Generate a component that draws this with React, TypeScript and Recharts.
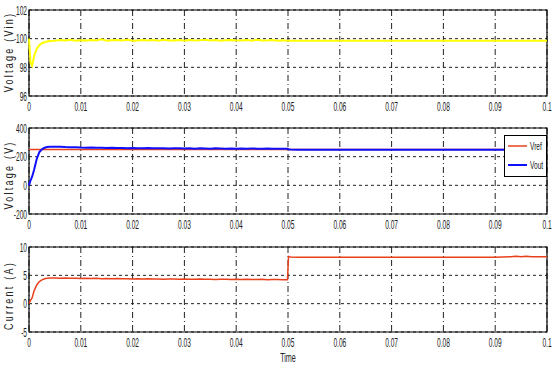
import { CartesianGrid, Legend, Line, LineChart, ReferenceArea, XAxis, YAxis } from 'recharts'

// time axis (s) shared by all three traces
const TIME = [
  0, 0.0003, 0.0006, 0.001, 0.0015, 0.002, 0.0025, 0.003, 0.0035, 0.004,
  0.005, 0.006, 0.007, 0.008, 0.009, 0.01, 0.011, 0.012, 0.013, 0.014,
  0.015, 0.016, 0.017, 0.018, 0.019, 0.02, 0.021, 0.022, 0.023, 0.024,
  0.025, 0.026, 0.027, 0.028, 0.029, 0.03, 0.031, 0.032, 0.033, 0.034,
  0.035, 0.036, 0.037, 0.038, 0.039, 0.04, 0.041, 0.042, 0.043, 0.044,
  0.045, 0.046, 0.047, 0.048, 0.049,
  0.0499, 0.0501, 0.0505, 0.052, 0.06, 0.07, 0.08, 0.09, 0.093, 0.094, 0.095, 0.096, 0.097, 0.1,
]

const VIN = [
  100, 98.3, 98.1, 98.8, 99.3, 99.55, 99.68, 99.75, 99.8, 99.84,
  99.86, 99.9, 99.87, 99.92, 99.86, 99.89, 99.87, 99.91, 99.88, 99.95,
  99.86, 99.89, 99.9, 99.87, 99.92, 99.86, 99.88, 99.9, 99.87, 99.91,
  99.86, 99.93, 99.88, 99.87, 99.9, 99.86, 99.91, 99.88, 99.89, 99.92,
  99.87, 99.9, 99.86, 99.89, 99.91, 99.87, 99.88, 99.9, 99.86, 99.92,
  99.88, 99.87, 99.9, 99.86, 99.89,
  99.86, 99.85, 99.85, 99.85, 99.85, 99.85, 99.85, 99.85, 99.85, 99.85, 99.85, 99.85, 99.85, 99.85,
]

const VREF_LEVEL = 250

const VOUT = [
  0, 35, 60, 110, 185, 232, 252, 262, 267, 269,
  270, 269, 267, 266, 266, 264, 263, 264, 262, 263,
  261, 262, 260, 261, 259, 260, 258, 259, 260, 258,
  259, 258, 257, 259, 258, 257, 258, 256, 258, 257,
  256, 258, 257, 256, 257, 256, 257, 255, 257, 256,
  255, 257, 256, 255, 256,
  256, 252, 250, 249, 248, 248, 248, 248, 248, 248, 248, 248, 248, 248,
]

const CURRENT = [
  0, 0.6, 1.0, 2.3, 3.3, 3.9, 4.2, 4.4, 4.5, 4.55,
  4.55, 4.5, 4.55, 4.5, 4.5, 4.45, 4.5, 4.45, 4.5, 4.4,
  4.45, 4.4, 4.45, 4.4, 4.4, 4.35, 4.4, 4.35, 4.4, 4.35,
  4.35, 4.3, 4.35, 4.35, 4.3, 4.35, 4.3, 4.3, 4.35, 4.3,
  4.3, 4.25, 4.3, 4.3, 4.25, 4.3, 4.25, 4.3, 4.25, 4.25,
  4.3, 4.2, 4.25, 4.25, 4.2,
  4.2, 8.35, 8.25, 8.2, 8.2, 8.2, 8.2, 8.2, 8.3, 8.35, 8.3, 8.35, 8.3, 8.3,
]

const X_TICKS = [0, 0.01, 0.02, 0.03, 0.04, 0.05, 0.06, 0.07, 0.08, 0.09, 0.1]
const VIN_TICKS = [96, 98, 100, 102]
const VOUT_TICKS = [-200, 0, 200, 400]
const CUR_TICKS = [-5, 0, 5, 10]

const rows = TIME.map((t, i) => ({
  t,
  vin: VIN[i],
  vref: VREF_LEVEL,
  vout: VOUT[i],
  cur: CURRENT[i],
}))

const FONT = '"Liberation Sans", Arial, sans-serif'
const INK = '#222'

function XTick({ x, y, payload }: any) {
  return (
    <text
      transform={`translate(${x},${y + 15}) scale(0.55,1)`}
      textAnchor="middle"
      fontSize={12}
      fontFamily={FONT}
      fill={INK}
    >
      {String(payload.value)}
    </text>
  )
}

function YTick({ x, y, payload }: any) {
  return (
    <text
      transform={`translate(${x - 2},${y + 4.5}) scale(0.55,1)`}
      textAnchor="end"
      fontSize={12}
      fontFamily={FONT}
      fill={INK}
    >
      {String(payload.value)}
    </text>
  )
}

const yLabel = (text: string, shift: number) => (props: any) => {
  const vb = props.viewBox
  const cy = vb.y + vb.height / 2 + shift
  return (
    <text
      transform={`translate(13,${cy}) rotate(-90) scale(0.75,1)`}
      textAnchor="middle"
      fontSize={12}
      fontFamily={FONT}
      fill={INK}
      letterSpacing={3}
    >
      {text}
    </text>
  )
}

function LegendBox() {
  return (
    <svg width={43} height={42} style={{ display: 'block' }}>
      <rect x={0.5} y={0.5} width={42} height={41} fill="#fff" stroke="#000" />
      <line x1={4} x2={23} y1={11} y2={11} stroke="#e8401c" strokeWidth={1.5} />
      <text transform="translate(26,14.5) scale(0.6,1)" fontSize={11} fontFamily={FONT} fill={INK}>
        Vref
      </text>
      <line x1={4} x2={23} y1={30} y2={30} stroke="#1010ff" strokeWidth={2} />
      <text transform="translate(26,33.5) scale(0.6,1)" fontSize={11} fontFamily={FONT} fill={INK}>
        Vout
      </text>
    </svg>
  )
}

function Panel({
  top,
  height,
  marginTop,
  axisHeight,
  yDomain,
  yTicks,
  label,
  labelShift,
  timeLabel,
  children,
}: any) {
  return (
    <div style={{ position: 'absolute', left: 0, top }}>
      <LineChart
        width={552}
        height={height}
        data={rows}
        margin={{ top: marginTop, right: 5, bottom: 0, left: 0 }}
      >
        <CartesianGrid vertical={false} stroke={INK} strokeDasharray="3 3" />
        <CartesianGrid horizontal={false} stroke={INK} strokeDasharray="6 3 1 3" />
        <XAxis
          dataKey="t"
          type="number"
          domain={[0, 0.1]}
          ticks={X_TICKS}
          height={axisHeight}
          axisLine={false}
          tickLine={false}
          tickSize={0}
          tickMargin={0}
          tick={<XTick />}
          interval={0}
          label={
            timeLabel
              ? (props: any) => {
                  const vb = props.viewBox
                  return (
                    <text
                      transform={`translate(${vb.x + vb.width / 2},${vb.y + 30}) scale(0.6,1)`}
                      textAnchor="middle"
                      fontSize={12}
                      fontFamily={FONT}
                      fill={INK}
                    >
                      Time
                    </text>
                  )
                }
              : undefined
          }
        />
        <YAxis
          type="number"
          domain={yDomain}
          ticks={yTicks}
          width={29}
          axisLine={false}
          tickLine={false}
          tickSize={0}
          tickMargin={0}
          tick={<YTick />}
          interval={0}
          allowDataOverflow
          label={{ content: yLabel(label, labelShift) } as any}
        />
        {children}
        <ReferenceArea
          x1={0}
          x2={0.1}
          y1={yDomain[0]}
          y2={yDomain[1]}
          fill="none"
          stroke="#000"
          strokeWidth={1.2}
          fillOpacity={0}
        />
      </LineChart>
    </div>
  )
}

export default function App() {
  return (
    <div style={{ position: 'absolute', left: 0, top: 0, width: 552, height: 365, background: '#fff' }}>
      <Panel
        top={0}
        height={115}
        marginTop={10}
        axisHeight={19}
        yDomain={[96, 102]}
        yTicks={VIN_TICKS}
        label="Voltage (Vin)"
        labelShift={-1}
      >
        <Line
          dataKey="vin"
          type="linear"
          stroke="#ffff00"
          strokeWidth={2}
          dot={false}
          isAnimationActive={false}
        />
      </Panel>
      <Panel
        top={115}
        height={115}
        marginTop={13}
        axisHeight={16}
        yDomain={[-200, 400]}
        yTicks={VOUT_TICKS}
        label="Voltage (V)"
        labelShift={4}
      >
        <Line
          dataKey="vref"
          name="Vref"
          type="linear"
          stroke="#e8401c"
          strokeWidth={1.5}
          dot={false}
          isAnimationActive={false}
        />
        <Line
          dataKey="vout"
          name="Vout"
          type="linear"
          stroke="#1010ff"
          strokeWidth={2}
          dot={false}
          isAnimationActive={false}
        />
        <Legend
          layout="vertical"
          align="center"
          verticalAlign="middle"
          content={() => <LegendBox />}
          wrapperStyle={{ position: 'absolute', left: 504, top: 20, width: 43, height: 42, margin: 0 }}
        />
      </Panel>
      <Panel
        top={230}
        height={135}
        marginTop={17}
        axisHeight={33}
        yDomain={[-5, 10]}
        yTicks={CUR_TICKS}
        label="Current (A)"
        labelShift={6}
        timeLabel
      >
        <Line
          dataKey="cur"
          type="linear"
          stroke="#e8401c"
          strokeWidth={1.5}
          dot={false}
          isAnimationActive={false}
        />
      </Panel>
    </div>
  )
}
